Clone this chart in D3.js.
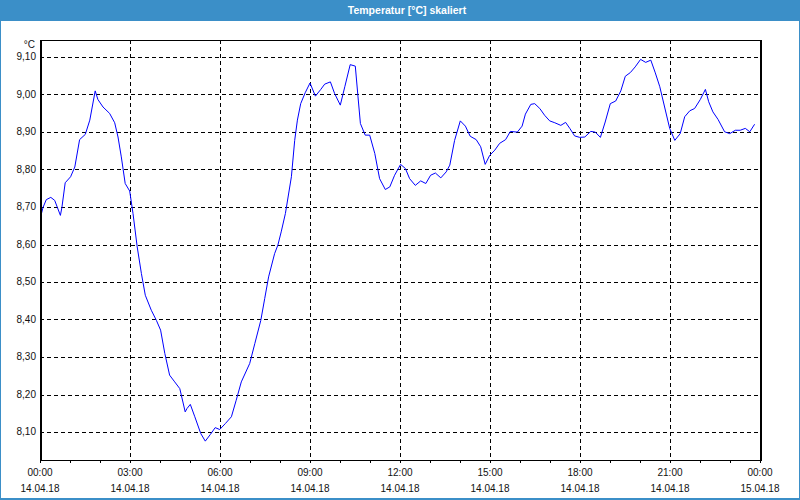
<!DOCTYPE html>
<html><head><meta charset="utf-8">
<script src="https://cdn.jsdelivr.net/npm/d3@7/dist/d3.min.js"></script>
<style>html,body{margin:0;padding:0;background:#fff;}svg{display:block;}</style>
</head><body>
<script>
const title = "Temperatur [°C] skaliert";
const unit = "°C";
const hours = [0.02,0.10,0.21,0.36,0.49,0.58,0.68,0.73,0.84,1.02,
1.16,1.32,1.51,1.66,1.84,1.93,2.10,2.32,2.49,2.60,
2.71,2.84,2.99,3.10,3.24,3.38,3.51,3.71,3.88,4.02,
4.16,4.32,4.49,4.66,4.84,4.90,5.01,5.16,5.36,5.51,
5.68,5.84,5.99,6.18,6.38,6.54,6.71,6.99,7.16,7.36,
7.49,7.62,7.82,7.93,8.04,8.18,8.38,8.49,8.58,8.69,
8.84,9.00,9.18,9.36,9.49,9.68,9.82,10.01,10.16,10.34,
10.51,10.60,10.68,10.84,10.99,11.16,11.32,11.51,11.66,11.82,
12.02,12.18,12.32,12.51,12.69,12.86,13.02,13.18,13.36,13.54,
13.66,13.82,14.01,14.18,14.34,14.54,14.69,14.84,14.99,15.16,
15.32,15.52,15.68,15.91,16.07,16.18,16.36,16.49,16.66,16.82,
16.99,17.16,17.36,17.52,17.66,17.82,17.99,18.16,18.36,18.51,
18.68,18.84,19.01,19.19,19.36,19.51,19.68,19.84,20.02,20.19,
20.36,20.51,20.66,20.82,20.99,21.16,21.34,21.49,21.66,21.82,
22.01,22.18,22.29,22.43,22.60,22.82,22.99,23.18,23.34,23.51,
23.66,23.82];
const temps = [8.675,8.700,8.721,8.727,8.719,8.700,8.679,8.700,8.766,8.782,
8.808,8.881,8.895,8.933,9.011,8.988,8.968,8.951,8.926,8.888,
8.835,8.764,8.744,8.684,8.595,8.524,8.466,8.426,8.399,8.373,
8.311,8.253,8.235,8.217,8.155,8.164,8.175,8.142,8.097,8.077,
8.095,8.113,8.108,8.124,8.142,8.186,8.235,8.284,8.337,8.399,
8.457,8.515,8.577,8.600,8.635,8.684,8.782,8.879,8.933,8.977,
9.006,9.032,8.997,9.015,9.029,9.035,9.004,8.973,9.022,9.081,
9.077,8.995,8.924,8.893,8.893,8.844,8.777,8.748,8.755,8.786,
8.815,8.804,8.777,8.759,8.771,8.764,8.786,8.792,8.779,8.795,
8.813,8.879,8.931,8.917,8.890,8.881,8.862,8.815,8.839,8.853,
8.871,8.881,8.903,8.901,8.917,8.949,8.975,8.977,8.964,8.946,
8.931,8.926,8.919,8.927,8.911,8.891,8.887,8.888,8.903,8.901,
8.887,8.928,8.977,8.984,9.011,9.050,9.060,9.075,9.095,9.087,
9.093,9.059,9.022,8.968,8.911,8.879,8.897,8.942,8.958,8.964,
8.988,9.015,8.982,8.955,8.935,8.902,8.897,8.906,8.906,8.911,
8.902,8.922];
const yTicks = [8.10,8.20,8.30,8.40,8.50,8.60,8.70,8.80,8.90,9.00,9.10];
const xTicks = [0,3,6,9,12,15,18,21,24];
const timeLabels = ["00:00","03:00","06:00","09:00","12:00","15:00","18:00","21:00","00:00"];
const dateLabels = ["14.04.18","14.04.18","14.04.18","14.04.18","14.04.18","14.04.18","14.04.18","14.04.18","15.04.18"];
const minorTicks = d3.range(0,25,1);

const W=800,H=500, L=40, R=760, T=40, B=460;
const blue="#3B8FC8";
const svg=d3.select("body").append("svg").attr("width",W).attr("height",H);
svg.append("rect").attr("width",W).attr("height",H).attr("fill","#fff");
svg.append("rect").attr("width",W).attr("height",21).attr("fill",blue);
svg.append("rect").attr("x",0).attr("y",0).attr("width",1).attr("height",H).attr("fill",blue);
svg.append("rect").attr("x",W-1).attr("y",0).attr("width",1).attr("height",H).attr("fill",blue);
svg.append("rect").attr("x",0).attr("y",H-2).attr("width",W).attr("height",2).attr("fill",blue);
svg.append("text").attr("x",407).attr("y",11).attr("text-anchor","middle").attr("dominant-baseline","middle")
  .attr("fill","#fff").attr("font-family","Liberation Sans, Arial, sans-serif").attr("font-weight","bold").attr("font-size","10.5px").text(title);

const x=d3.scaleLinear().domain([0,24]).range([L,R]);
const y=d3.scaleLinear().domain([8.10,9.10]).range([432.5,57.5]);
const font="Liberation Sans, Arial, sans-serif";

// grid
const g=svg.append("g").attr("shape-rendering","crispEdges");
g.selectAll("line.h").data(yTicks).enter().append("line")
  .attr("x1",L).attr("x2",R).attr("y1",d=>Math.floor(y(d))+0.5).attr("y2",d=>Math.floor(y(d))+0.5)
  .attr("stroke","#000").attr("stroke-dasharray","4,3");
g.selectAll("line.v").data(xTicks.slice(1,-1)).enter().append("line")
  .attr("x1",d=>x(d)+0.5).attr("x2",d=>x(d)+0.5).attr("y1",T).attr("y2",B)
  .attr("stroke","#000").attr("stroke-dasharray","4,3");

// line
svg.append("clipPath").attr("id","clip").append("rect").attr("x",L).attr("y",T).attr("width",R-L).attr("height",B-T);
const line=d3.line().x((d,i)=>x(hours[i])).y(d=>y(d));
svg.append("path").attr("d",line(temps)).attr("fill","none").attr("stroke","#0000ff").attr("stroke-width",1)
  .attr("clip-path","url(#clip)");

// frame
const f=svg.append("g").attr("shape-rendering","crispEdges").attr("stroke","#000");
f.append("line").attr("x1",L).attr("x2",R+2).attr("y1",T+0.5).attr("y2",T+0.5);
f.append("line").attr("x1",L).attr("x2",R+2).attr("y1",B+0.5).attr("y2",B+0.5);
f.append("line").attr("x1",L+1).attr("x2",L+1).attr("y1",T).attr("y2",B+1).attr("stroke-width",2);
f.append("line").attr("x1",R+1).attr("x2",R+1).attr("y1",T).attr("y2",B+1).attr("stroke-width",2);
f.selectAll("line.t").data(minorTicks).enter().append("line")
  .attr("x1",d=>x(d)+0.5).attr("x2",d=>x(d)+0.5).attr("y1",B).attr("y2",B+3);

// labels
const lab=svg.append("g").attr("font-family",font).attr("font-size","10px").attr("fill","#111");
lab.selectAll("text.y").data(yTicks).enter().append("text")
  .attr("x",36).attr("y",d=>y(d)).attr("text-anchor","end").attr("dominant-baseline","middle")
  .text(d=>d.toFixed(2).replace(".",","));
lab.append("text").attr("x",35).attr("y",45).attr("text-anchor","end").attr("dominant-baseline","middle").text(unit);
lab.selectAll("text.t").data(xTicks).enter().append("text")
  .attr("x",(d)=>x(d)).attr("y",473).attr("text-anchor","middle").attr("dominant-baseline","middle")
  .text((d,i)=>timeLabels[i]);
lab.selectAll("text.d").data(xTicks).enter().append("text")
  .attr("x",(d)=>x(d)).attr("y",489).attr("text-anchor","middle").attr("dominant-baseline","middle")
  .text((d,i)=>dateLabels[i]);
</script>
</body></html>
